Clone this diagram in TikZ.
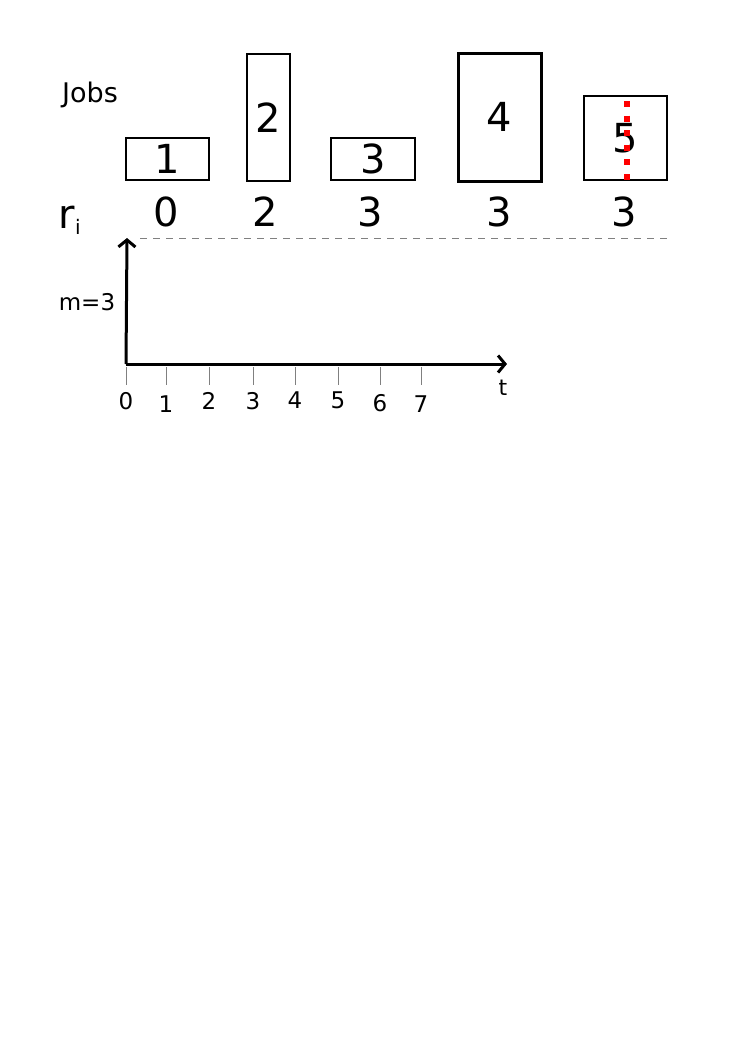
\documentclass[tikz,border=0pt]{standalone}
\usepackage{fontspec}
\setmainfont{DejaVu Sans}
\usetikzlibrary{arrows.meta}
\begin{document}
\begin{tikzpicture}[x=1pt,y=-1pt,
  jobbox/.style={draw=black,line width=2.5pt,inner sep=0pt,font=\fontsize{40}{48}\selectfont},
  rlabel/.style={inner sep=0pt,font=\fontsize{40}{48}\selectfont},
  ticklabel/.style={inner sep=0pt,font=\fontsize{23}{27}\selectfont},
  axis/.style={line width=3pt,-{Straight Barb[length=7pt,width=17pt]}},
  tickmark/.style={draw=gray,line width=1pt}]
\useasboundingbox (0,0) rectangle (745,1053);
% jobs
\node[inner sep=0pt,font=\fontsize{27}{32}\selectfont] (jobs) at (90,95) {Jobs};
\node[jobbox,minimum width=83pt,minimum height=42pt] (b1) at (167.5,159) {1};
\node[jobbox,minimum width=43pt,minimum height=127pt] (b2) at (268.5,117.5) {2};
\node[jobbox,minimum width=84pt,minimum height=42pt] (b3) at (373,159) {3};
\node[jobbox,line width=3pt,minimum width=83pt,minimum height=128pt] (b4) at (499.5,117) {4};
\node[jobbox,minimum width=83pt,minimum height=84pt] (b5) at (625.5,138) {5};
\coordinate (r1) at (626.5,101);
\coordinate (r2) at (626.5,180);
\draw[red,line width=6pt,dash pattern=on 6pt off 8.6pt] (r1) -- (r2);
% release times
\node[inner sep=0pt,anchor=base west,font=\fontsize{40}{48}\selectfont] (ri) at (58.5,228) {r\raisebox{-6pt}{\fontsize{20}{24}\selectfont i}};
\node[rlabel] (rv1) at (166,212) {0};
\node[rlabel] (rv2) at (265,212) {2};
\node[rlabel] (rv3) at (370,212) {3};
\node[rlabel] (rv4) at (499,212) {3};
\node[rlabel] (rv5) at (624,212) {3};
% dashed line
\coordinate (d1) at (140,238.5);
\coordinate (d2) at (668,238.5);
\draw[gray,line width=1pt,dash pattern=on 7pt off 6pt] (d1) -- (d2);
% axes
\coordinate (O) at (126,364);
\coordinate (Y) at (127,238);
\coordinate (X) at (507,364);
\draw[axis] (O) -- (Y);
\draw[axis] (O) -- (X);
\node[inner sep=0pt,font=\fontsize{23}{28}\selectfont] (m) at (87,302) {m=3};
\node[inner sep=0pt,font=\fontsize{22}{26}\selectfont] (t) at (503,388) {t};
% ticks
\foreach \x/\lab/\ly in {126/0/401, 166/1/404, 209/2/401, 253/3/401, 295/4/400, 338/5/400, 380/6/403, 421/7/404}{
  \draw[tickmark] (\x,367) -- (\x,385);
  \node[ticklabel] (tl\lab) at (\x,\ly) {\lab};
}
\end{tikzpicture}
\end{document}
